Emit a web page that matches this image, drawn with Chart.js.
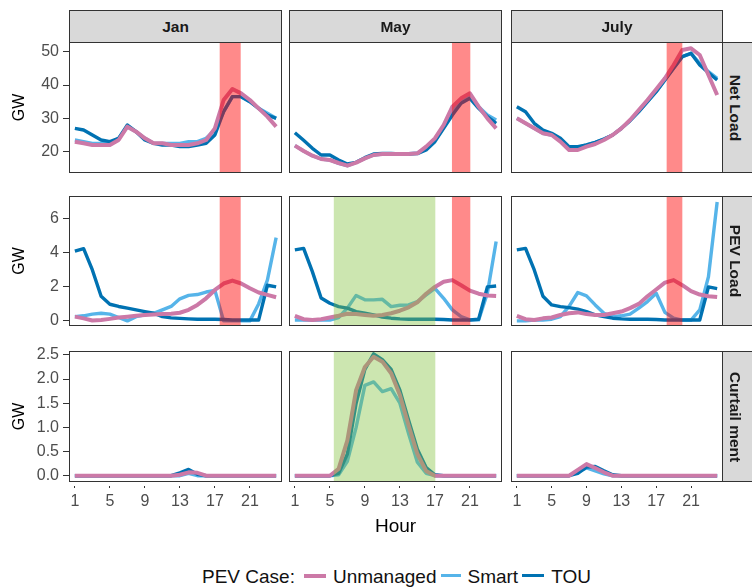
<!DOCTYPE html>
<html>
<head>
<meta charset="utf-8">
<script src="https://cdn.jsdelivr.net/npm/chart.js@4.4.1/dist/chart.umd.min.js"></script>
<style>
  html, body { margin: 0; padding: 0; width: 752px; height: 587px; overflow: hidden; background: #fff; }
  body { position: relative; font-family: "Liberation Sans", Arial, sans-serif; }
  .panel { position: absolute; }
  .strip { position: absolute; box-sizing: border-box; background: #d9d9d9; border: 1px solid #333;
           color: #1a1a1a; font-weight: bold; font-size: 15.5px; }
  .strip.top { display: flex; align-items: center; justify-content: center; }
  .strip.side span { position: absolute; top: 50%; left: 12px; transform: translate(-50%, -50%);
                     writing-mode: vertical-rl; white-space: nowrap; }
  #legend { position: absolute; left: 202px; top: 566px; display: flex; align-items: center;
            font-size: 19px; line-height: 22px; color: #111; white-space: nowrap; }
  #legend .key { display: inline-block; }
</style>
</head>
<body>
<div id="legend"></div>
<script>
// facettes
const months = ["Jan", "May", "July"];
const measures = ["Net Load", "PEV Load", "Curtail ment"];
const seriesNames = ["Unmanaged", "Smart", "TOU"];
const seriesColors = ["#CC79A7", "#56B4E9", "#0072B2"];

const hours = [1, 2, 3, 4, 5, 6, 7, 8, 9, 10, 11, 12, 13, 14, 15, 16, 17, 18, 19, 20, 21, 22, 23, 24];
const xTicks = [1, 5, 9, 13, 17, 21];
const netTicks = [20, 30, 40, 50];
const pevTicks = [0, 2, 4, 6];
const curTicks = [0, 0.5, 1.0, 1.5, 2.0, 2.5];

// Net Load (GW)
const janNetUnmanaged = [23, 22.5, 22, 22, 22, 23.5, 27.5, 26, 24, 22.5, 22.5, 22, 22, 22, 22.5, 23.5, 27, 35.5, 38.8, 37.5, 35.5, 33, 30.5, 27.5];
const janNetSmart = [23.5, 23, 22.5, 22.5, 22.5, 24, 27.5, 26, 24, 22.5, 22.5, 22.5, 22.5, 23, 23, 24, 26.5, 32, 36.5, 36.5, 35, 33, 31.5, 30];
const janNetTOU = [27, 26.5, 25, 23.5, 23, 24, 28, 26, 23.5, 22.5, 22, 22, 21.5, 21.5, 22, 22.5, 25, 32, 36.5, 36.5, 35, 33, 31, 30];
const mayNetUnmanaged = [21.8, 20.2, 18.8, 17.8, 17.5, 16.6, 15.8, 16.7, 18, 19, 19.3, 19.3, 19.3, 19.3, 19.5, 21.5, 24, 28, 33.5, 36, 37.5, 33.5, 30, 27];
const mayNetSmart = [21.8, 20.2, 18.8, 17.8, 17.5, 16.5, 15.8, 16.8, 18, 19, 19.3, 19.4, 19.4, 19.4, 19.6, 21, 23.5, 27.5, 32, 35.5, 36.5, 33.5, 31, 29.5];
const mayNetTOU = [25.7, 23.4, 21, 19, 19, 17.5, 16.3, 16.8, 18.2, 19.3, 19.5, 19.5, 19.3, 19.3, 19.4, 20.5, 23, 27, 31, 34.5, 36, 33, 30.5, 28.5];
const julyNetUnmanaged = [30, 28.5, 27, 25.5, 25, 23, 20.5, 20.5, 21.5, 22.3, 23.5, 25, 27, 29.5, 32.5, 35.5, 38.7, 42, 46, 50.5, 51, 49, 43, 37];
const julyNetSmart = [30, 28.5, 27, 25.5, 25, 23.5, 21, 21.3, 22, 22.8, 23.8, 25, 27, 29.3, 32, 35, 38, 41.5, 45, 48.5, 49.5, 46.5, 44, 42];
const julyNetTOU = [33.5, 32, 28.5, 26.5, 25.5, 24, 21.5, 21.5, 22, 22.8, 23.8, 25, 27, 29.3, 32, 35, 38, 41.5, 45, 48.5, 49.5, 46, 43.7, 41.5];

// PEV Load (GW)
const janPevUnmanaged = [0.25, 0.15, 0.02, 0.05, 0.12, 0.2, 0.25, 0.3, 0.35, 0.38, 0.4, 0.42, 0.48, 0.65, 0.94, 1.33, 1.82, 2.2, 2.37, 2.2, 1.92, 1.67, 1.53, 1.39];
const janPevSmart = [0.25, 0.3, 0.4, 0.45, 0.4, 0.2, 0, 0.25, 0.35, 0.45, 0.65, 0.85, 1.3, 1.5, 1.55, 1.7, 1.8, 0, 0, 0, 0, 1.0, 2.4, 4.9];
const janPevTOU = [4.1, 4.25, 3.0, 1.45, 0.98, 0.85, 0.75, 0.65, 0.55, 0.45, 0.25, 0.18, 0.15, 0.12, 0.1, 0.1, 0.1, 0.08, 0.05, 0.05, 0.05, 0.05, 2.1, 2.0];
const mayPevUnmanaged = [0.3, 0.1, 0.05, 0.1, 0.2, 0.3, 0.42, 0.4, 0.35, 0.3, 0.35, 0.45, 0.6, 0.8, 1.1, 1.6, 2.0, 2.3, 2.4, 2.1, 1.78, 1.6, 1.5, 1.47];
const mayPevSmart = [0.05, 0.05, 0.05, 0.05, 0.05, 0.2, 0.75, 1.5, 1.24, 1.24, 1.27, 0.84, 0.92, 0.94, 1.14, 1.53, 1.92, 1.33, 0.65, 0.25, 0.06, 0.06, 1.63, 4.67];
const mayPevTOU = [4.18, 4.27, 2.9, 1.35, 1.04, 0.84, 0.75, 0.55, 0.45, 0.35, 0.22, 0.16, 0.12, 0.1, 0.1, 0.1, 0.1, 0.08, 0.05, 0.05, 0.05, 0.1, 2.0, 2.05];
const julyPevUnmanaged = [0.3, 0.1, 0.05, 0.15, 0.2, 0.35, 0.45, 0.5, 0.4, 0.35, 0.35, 0.45, 0.55, 0.75, 1.0, 1.45, 1.85, 2.25, 2.4, 2.1, 1.75, 1.55, 1.45, 1.4];
const julyPevSmart = [0, 0, 0.05, 0.05, 0.1, 0.25, 0.85, 1.67, 1.47, 0.94, 0.45, 0.25, 0.3, 0.4, 0.75, 1.14, 1.63, 0.5, 0.16, 0.05, 0.05, 0.65, 2.6, 7.0];
const julyPevTOU = [4.18, 4.27, 3.0, 1.45, 0.94, 0.84, 0.78, 0.69, 0.55, 0.35, 0.25, 0.16, 0.12, 0.1, 0.1, 0.1, 0.08, 0.05, 0.05, 0.05, 0.05, 0.05, 2.0, 1.9];

// Curtailment (GW)
const janCurUnmanaged = [0, 0, 0, 0, 0, 0, 0, 0, 0, 0, 0, 0, 0.02, 0.07, 0.06, 0, 0, 0, 0, 0, 0, 0, 0, 0];
const janCurSmart = [0, 0, 0, 0, 0, 0, 0, 0, 0, 0, 0, 0, 0, 0.05, 0, 0, 0, 0, 0, 0, 0, 0, 0, 0];
const janCurTOU = [0, 0, 0, 0, 0, 0, 0, 0, 0, 0, 0, 0, 0.06, 0.13, 0.03, 0, 0, 0, 0, 0, 0, 0, 0, 0];
const mayCurUnmanaged = [0, 0, 0, 0, 0, 0.14, 0.73, 1.77, 2.25, 2.46, 2.36, 2.12, 1.67, 1.04, 0.45, 0.1, 0, 0, 0, 0, 0, 0, 0, 0];
const mayCurSmart = [0, 0, 0, 0, 0, 0.02, 0.3, 1.0, 1.87, 1.94, 1.74, 1.8, 1.5, 0.87, 0.28, 0.05, 0, 0, 0, 0, 0, 0, 0, 0];
const mayCurTOU = [0, 0, 0, 0, 0, 0.05, 0.45, 1.5, 2.2, 2.52, 2.4, 2.2, 1.77, 1.15, 0.55, 0.17, 0.02, 0, 0, 0, 0, 0, 0, 0];
const julyCurUnmanaged = [0, 0, 0, 0, 0, 0, 0, 0.12, 0.24, 0.16, 0.07, 0, 0, 0, 0, 0, 0, 0, 0, 0, 0, 0, 0, 0];
const julyCurSmart = [0, 0, 0, 0, 0, 0, 0, 0.08, 0.16, 0.1, 0.04, 0, 0, 0, 0, 0, 0, 0, 0, 0, 0, 0, 0, 0];
const julyCurTOU = [0, 0, 0, 0, 0, 0, 0, 0.05, 0.18, 0.19, 0.1, 0.02, 0, 0, 0, 0, 0, 0, 0, 0, 0, 0, 0, 0];

// plages horaires (heures)
const peakBands = [[17.55, 19.95], [18.95, 21.05], [18.2, 20.0]];
const solarBandMay = [5.45, 17.05];

const panelData = [
  [[janNetUnmanaged, janNetSmart, janNetTOU], [mayNetUnmanaged, mayNetSmart, mayNetTOU], [julyNetUnmanaged, julyNetSmart, julyNetTOU]],
  [[janPevUnmanaged, janPevSmart, janPevTOU], [mayPevUnmanaged, mayPevSmart, mayPevTOU], [julyPevUnmanaged, julyPevSmart, julyPevTOU]],
  [[janCurUnmanaged, janCurSmart, janCurTOU], [mayCurUnmanaged, mayCurSmart, mayCurTOU], [julyCurUnmanaged, julyCurSmart, julyCurTOU]]
];
const rowTicks = [netTicks, pevTicks, curTicks];
const rowRange = [[13.6, 52.9], [-0.3, 7.35], [-0.13, 2.58]];

// mise en page des panneaux (px)
const cols = [{ L: 69, R: 282 }, { L: 289, R: 502 }, { L: 511, R: 723 }];
const rows = [{ T: 42, B: 173 }, { T: 196, B: 326 }, { T: 351, B: 482 }];
const M = 16, AXIS_H = 60;

Chart.defaults.font.family = '"Liberation Sans", Arial, sans-serif';

const panelPlugin = {
  id: 'panel',
  afterDatasetsDraw(chart, args, opts) {
    const { ctx, chartArea: a, scales: { x } } = chart;
    ctx.save();
    ctx.beginPath();
    ctx.rect(a.left, a.top, a.width, a.height);
    ctx.clip();
    (opts.bands || []).forEach(b => {
      const x0 = x.getPixelForValue(b.from), x1 = x.getPixelForValue(b.to);
      ctx.fillStyle = b.color;
      ctx.fillRect(x0, a.top, x1 - x0, a.height);
    });
    ctx.restore();
  },
  afterDraw(chart) {
    const { ctx, chartArea: a } = chart;
    ctx.save();
    ctx.strokeStyle = '#333';
    ctx.lineWidth = 1;
    ctx.strokeRect(a.left + 0.5, a.top + 0.5, a.width - 1, a.height - 1);
    ctx.restore();
  }
};

function makePanel(r, c) {
  const col = cols[c], row = rows[r];
  const left = c === 0 ? 0 : col.L - M;
  const top = row.T - M;
  const width = col.R + M - left;
  const height = (r === 2 ? row.B + AXIS_H : row.B + M) - top;
  const showX = r === 2, showY = c === 0;

  const box = document.createElement('div');
  box.className = 'panel';
  box.style.left = left + 'px';
  box.style.top = top + 'px';
  box.style.width = width + 'px';
  box.style.height = height + 'px';
  const canvas = document.createElement('canvas');
  box.appendChild(canvas);
  document.body.appendChild(box);

  const bands = [];
  if (c === 1 && r > 0) bands.push({ from: solarBandMay[0], to: solarBandMay[1], color: 'rgba(128,193,58,0.4)' });
  if (r < 2) bands.push({ from: peakBands[c][0], to: peakBands[c][1], color: 'rgba(255,0,0,0.46)' });

  const series = panelData[r][c];
  // Unmanaged au-dessus, puis TOU, puis Smart
  const drawOrder = [0, 2, 1];
  const datasets = drawOrder.map(i => ({
    label: seriesNames[i],
    data: series[i],
    borderColor: seriesColors[i],
    borderWidth: i === 0 ? 4 : 3.4,
    pointRadius: 0,
    tension: 0,
    borderJoinStyle: 'round',
    borderCapStyle: 'butt'
  }));

  return new Chart(canvas, {
    type: 'line',
    data: { labels: hours, datasets },
    options: {
      responsive: true,
      maintainAspectRatio: false,
      animation: false,
      events: [],
      layout: { padding: { left: c === 0 ? 0 : M, right: M, top: M, bottom: r === 2 ? 0 : M } },
      plugins: {
        legend: { display: false },
        tooltip: { enabled: false },
        panel: { bands }
      },
      scales: {
        x: {
          type: 'linear',
          min: 0.33,
          max: 24.67,
          display: showX,
          afterBuildTicks: s => { s.ticks = xTicks.map(v => ({ value: v })); },
          afterFit: s => { if (showX) s.height = AXIS_H; },
          ticks: { color: '#4d4d4d', font: { size: 16 }, padding: 4, maxRotation: 0, autoSkip: false },
          grid: { drawOnChartArea: false, tickLength: 6, color: '#333', tickBorderDash: [2, 4], tickBorderDashOffset: 2 },
          border: { display: false },
          title: { display: c === 1, text: 'Hour', color: '#000', font: { size: 19 }, padding: { top: 0, bottom: 4 } }
        },
        y: {
          min: rowRange[r][0],
          max: rowRange[r][1],
          display: showY,
          afterBuildTicks: s => { s.ticks = rowTicks[r].map(v => ({ value: v })); },
          afterFit: s => { if (showY) s.width = cols[0].L; },
          ticks: {
            color: '#4d4d4d', font: { size: 16 }, padding: 4,
            callback: v => (r === 2 ? v.toFixed(1) : String(v))
          },
          grid: { drawOnChartArea: false, tickLength: 6, color: '#333' },
          border: { display: false },
          title: { display: true, text: 'GW', color: '#000', font: { size: 16 }, padding: { top: 10, bottom: 0 } }
        }
      }
    },
    plugins: [panelPlugin]
  });
}

for (let r = 0; r < 3; r++) {
  for (let c = 0; c < 3; c++) makePanel(r, c);
}

// bandeaux des facettes
months.forEach((m, c) => {
  const d = document.createElement('div');
  d.className = 'strip top';
  d.style.left = cols[c].L + 'px';
  d.style.top = '10px';
  d.style.width = (cols[c].R - cols[c].L) + 'px';
  d.style.height = '33px';
  d.textContent = m;
  document.body.appendChild(d);
});
measures.forEach((m, r) => {
  const d = document.createElement('div');
  d.className = 'strip side';
  d.style.left = (cols[2].R - 1) + 'px';
  d.style.top = rows[r].T + 'px';
  d.style.width = '60px';
  d.style.height = (rows[r].B - rows[r].T) + 'px';
  const s = document.createElement('span');
  s.textContent = m;
  d.appendChild(s);
  document.body.appendChild(d);
});

// légende
const legend = document.getElementById('legend');
const title = document.createElement('span');
title.textContent = 'PEV Case:';
legend.appendChild(title);
const keyGap = [9, 5, 4];
const textGap = [7, 6, 7];
const keyWidth = [22, 20, 22];
seriesNames.forEach((name, i) => {
  const k = document.createElement('span');
  k.className = 'key';
  k.style.marginLeft = keyGap[i] + 'px';
  k.style.width = keyWidth[i] + 'px';
  k.style.height = (i === 0 ? 4 : 3) + 'px';
  k.style.background = seriesColors[i];
  k.style.marginTop = '-3px';
  legend.appendChild(k);
  const t = document.createElement('span');
  t.style.marginLeft = textGap[i] + 'px';
  t.textContent = name;
  legend.appendChild(t);
});
</script>
</body>
</html>
